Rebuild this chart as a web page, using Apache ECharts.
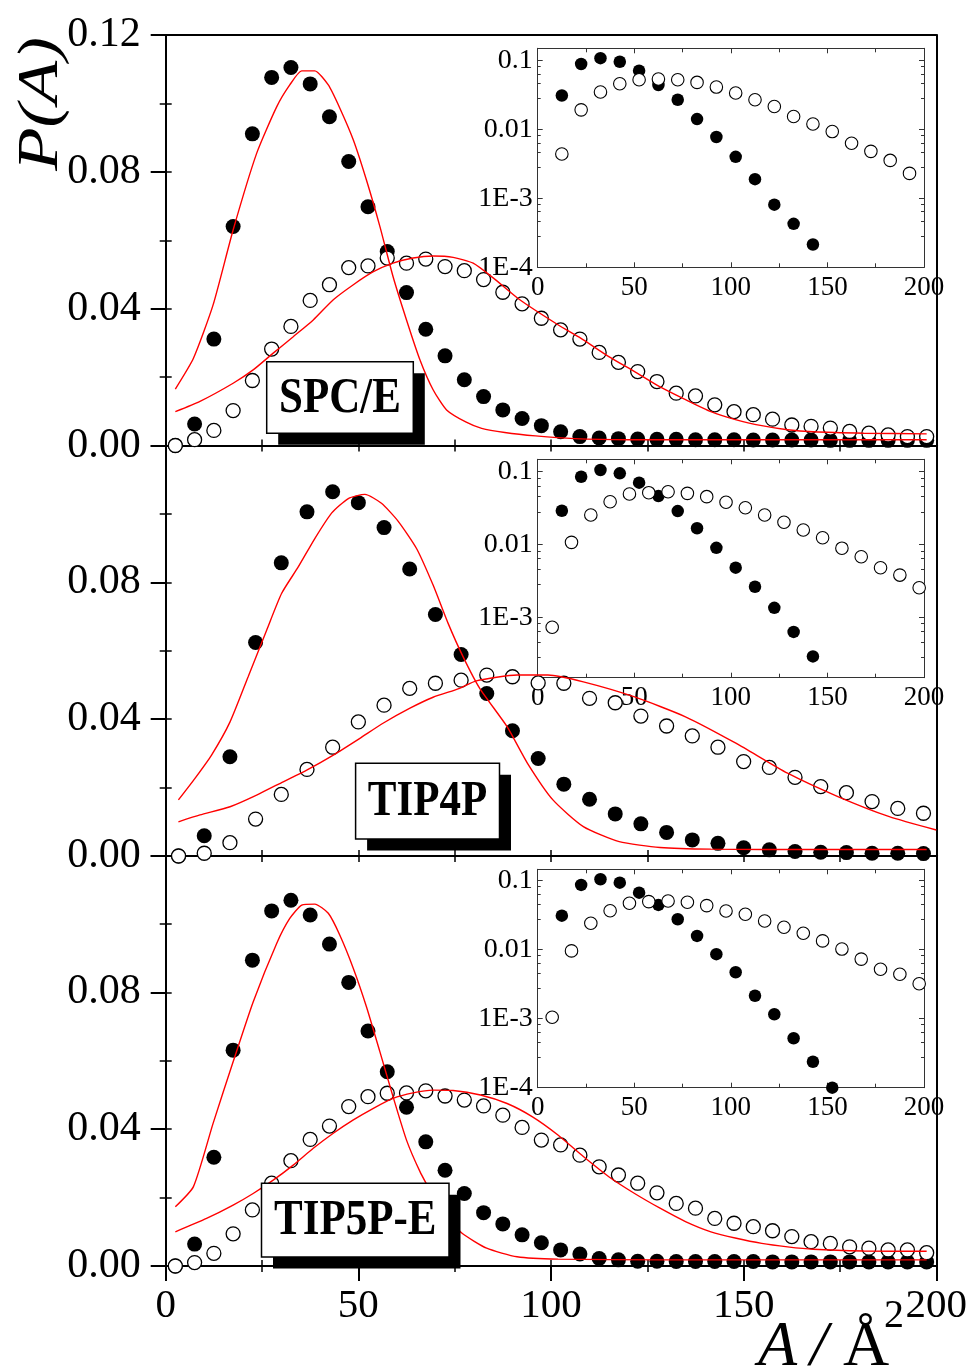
<!DOCTYPE html>
<html>
<head>
<meta charset="utf-8">
<script src="https://cdn.jsdelivr.net/npm/echarts@6/dist/echarts.min.js"></script>
<style>
html, body { margin: 0; padding: 0; background: #fff; }
#echart { width: 971px; height: 1372px; }
</style>
</head>
<body>
<div id="echart"></div>
<script>
// bin centres (A / Å^2)
const binsA = [2.5, 7.5, 12.5, 17.5, 22.5, 27.5, 32.5, 37.5, 42.5, 47.5, 52.5, 57.5, 62.5, 67.5, 72.5, 77.5,
    82.5, 87.5, 92.5, 97.5, 102.5, 107.5, 112.5, 117.5, 122.5, 127.5, 132.5, 137.5, 142.5, 147.5, 152.5,
    157.5, 162.5, 167.5, 172.5, 177.5, 182.5, 187.5, 192.5, 197.5];
const binsTip4p = [3.33, 10, 16.67, 23.33, 30, 36.67, 43.33, 50, 56.67, 63.33, 70, 76.67, 83.33, 90, 96.67,
    103.33, 110, 116.67, 123.33, 130, 136.67, 143.33, 150, 156.67, 163.33, 170, 176.67, 183.33, 190, 196.67];

// SPC/E
const spceFilled = [0, 0.0063, 0.0311, 0.064, 0.0911, 0.1076, 0.1105, 0.1057, 0.0961, 0.083, 0.0698, 0.0567,
    0.0447, 0.034, 0.0262, 0.0192, 0.0143, 0.0104, 0.0079, 0.0058, 0.004, 0.0026, 0.0022, 0.002, 0.0019,
    0.0018, 0.0018, 0.0017, 0.0017, 0.0017, 0.0016, 0.0016, 0.0016, 0.0016, 0.0015, 0.0015, 0.0015, 0.0015,
    0.0015, 0.0015];
const spceOpen = [0, 0.0017, 0.0044, 0.0102, 0.019, 0.0282, 0.0348, 0.0424, 0.047, 0.052, 0.0525, 0.0548,
    0.0533, 0.0545, 0.0523, 0.0511, 0.0485, 0.0448, 0.0414, 0.0372, 0.0338, 0.0311, 0.0272, 0.0243, 0.0216,
    0.0187, 0.0153, 0.0145, 0.0119, 0.0099, 0.009, 0.0077, 0.006, 0.0056, 0.0051, 0.0041, 0.0036, 0.0031,
    0.0026, 0.0026];
const spceFitNarrowX = [2.5, 7.2, 12.3, 17.5, 23.6, 28.8, 32.2, 35.3, 38.7, 42.2, 45.2, 48.7, 52.1, 55.6, 59,
    62.5, 66, 69.4, 72.9, 78, 82, 88, 96, 106, 120, 140, 160, 180, 197.5];
const spceFitNarrowY = [0.0165, 0.0255, 0.0411, 0.063, 0.0854, 0.099, 0.1054, 0.1095, 0.1095, 0.1054, 0.0986,
    0.0893, 0.0776, 0.064, 0.0494, 0.0367, 0.025, 0.0163, 0.0104, 0.0068, 0.005, 0.0038, 0.0028, 0.002,
    0.0017, 0.0017, 0.0017, 0.0017, 0.0017];
const spceFitBroadX = [2.5, 8.9, 17.5, 22.7, 27.9, 33.1, 38.3, 43.5, 48.7, 53.9, 59, 64.2, 69.4, 74.6, 79.8, 85,
    91.9, 101.8, 107.7, 115, 121.7, 128.2, 134.9, 141.5, 148.1, 154.7, 161.4, 168, 181.2, 197.5];
const spceFitBroadY = [0.0099, 0.0129, 0.0182, 0.0221, 0.027, 0.0318, 0.0367, 0.0426, 0.047, 0.0508, 0.0533,
    0.0548, 0.0554, 0.055, 0.0533, 0.049, 0.0426, 0.0353, 0.0314, 0.026, 0.0216, 0.0172, 0.0134, 0.0099,
    0.0075, 0.0058, 0.0046, 0.004, 0.0036, 0.0034];

// TIP4P
const tip4pFilled = [0, 0.0059, 0.029, 0.0624, 0.0857, 0.1006, 0.1065, 0.1033, 0.096, 0.0839, 0.0706, 0.0589,
    0.0475, 0.0366, 0.0285, 0.021, 0.0166, 0.0123, 0.0094, 0.0069, 0.0047, 0.0037, 0.0024, 0.0018, 0.0013,
    0.0011, 0.001, 0.0008, 0.0008, 0.0007];
const tip4pOpen = [0, 0.0008, 0.0039, 0.0108, 0.018, 0.0253, 0.0318, 0.0392, 0.0441, 0.049, 0.0505, 0.0514,
    0.0529, 0.0524, 0.0506, 0.0505, 0.0461, 0.0448, 0.0409, 0.038, 0.0351, 0.0318, 0.0276, 0.0259, 0.023,
    0.0203, 0.0185, 0.0159, 0.0139, 0.0125];
const tip4pFitNarrowX = [3.3, 7.6, 11.9, 16.7, 21.4, 26.2, 30.1, 34.4, 38.7, 43.1, 47.4, 51.7, 56, 60.3, 65.1,
    69.4, 73.3, 77.2, 81.5, 88.6, 93.9, 100.5, 108.4, 117.7, 128.3, 141.5, 168, 197.5];
const tip4pFitNarrowY = [0.0164, 0.0227, 0.0295, 0.0392, 0.0524, 0.066, 0.0768, 0.0845, 0.0928, 0.1003, 0.1045,
    0.1057, 0.1031, 0.0979, 0.0899, 0.0792, 0.068, 0.0582, 0.049, 0.0378, 0.0271, 0.0164, 0.0086, 0.0042,
    0.0025, 0.002, 0.0019, 0.0019];
const tip4pFitBroadX = [3.3, 8.9, 16.7, 23.6, 30.5, 36.6, 43.5, 50.4, 56.4, 63.4, 69.4, 76.3, 80.6, 91.2, 99.2,
    108.4, 121.7, 134.9, 148.1, 161.4, 174.6, 187.8, 200];
const tip4pFitBroadY = [0.01, 0.012, 0.0144, 0.0178, 0.0217, 0.0251, 0.0295, 0.0344, 0.0388, 0.0432, 0.0464,
    0.049, 0.0512, 0.0529, 0.0529, 0.0509, 0.0465, 0.0407, 0.0329, 0.0242, 0.0173, 0.0115, 0.0076];

// TIP5P-E
const tip5pFilled = [0, 0.0064, 0.0318, 0.0631, 0.0894, 0.1038, 0.1069, 0.1026, 0.0941, 0.0829, 0.0687, 0.0568,
    0.0464, 0.0363, 0.028, 0.0212, 0.0156, 0.0123, 0.0091, 0.0068, 0.0047, 0.0035, 0.0022, 0.0018, 0.0014,
    0.0014, 0.0013, 0.0013, 0.0013, 0.0013, 0.0013, 0.0012, 0.0012, 0.0012, 0.0012, 0.0012, 0.0012, 0.0012,
    0.0012, 0.0012];
const tip5pOpen = [0, 0.001, 0.0037, 0.0094, 0.0164, 0.0242, 0.0308, 0.037, 0.0409, 0.0466, 0.0495, 0.0505,
    0.0506, 0.0512, 0.0497, 0.0485, 0.0468, 0.0441, 0.0405, 0.0368, 0.0354, 0.0324, 0.029, 0.0266, 0.0242,
    0.0214, 0.0183, 0.0169, 0.0139, 0.0125, 0.0115, 0.0103, 0.0086, 0.0071, 0.0066, 0.0056, 0.0052, 0.0047,
    0.0047, 0.0039];
const tip5pFitNarrowX = [2.5, 7.2, 12.3, 17.5, 22.7, 28.8, 32.2, 35.3, 38.7, 42.2, 45.2, 48.7, 52.1, 55.6, 59,
    62.5, 66, 69.4, 72.5, 77, 83.3, 91.2, 101.8, 128.3, 197.5];
const tip5pFitNarrowY = [0.0173, 0.0232, 0.0417, 0.0597, 0.0772, 0.0943, 0.1016, 0.1055, 0.1058, 0.1031, 0.0967,
    0.087, 0.0758, 0.0626, 0.0495, 0.0368, 0.0276, 0.0205, 0.0145, 0.0095, 0.0052, 0.0027, 0.002, 0.0018,
    0.0018];
const tip5pFitBroadX = [2.5, 10.6, 17.5, 22.7, 27.9, 33.1, 38.3, 43.5, 48.7, 53.9, 59, 64.2, 69.4, 74.6, 81.7,
    88.6, 95.2, 101.8, 108.4, 115, 121.7, 128.3, 134.9, 141.5, 148.1, 154.7, 161.4, 168, 181.2, 197.5];
const tip5pFitBroadY = [0.01, 0.0139, 0.0178, 0.0212, 0.0251, 0.0295, 0.0344, 0.0388, 0.0427, 0.0461, 0.049,
    0.0506, 0.0514, 0.0513, 0.05, 0.0475, 0.0436, 0.0383, 0.032, 0.0261, 0.0212, 0.0169, 0.013, 0.01, 0.0081,
    0.0066, 0.0056, 0.0049, 0.0044, 0.0043];

// insets (log scale)
const insetFilledA = [12.5, 22.5, 32.5, 42.5, 52.5, 62.5, 72.5, 82.5, 92.5, 102.5, 112.5, 122.5, 132.5, 142.5, 152.5];
const spceInsetFilled = [0.031, 0.0887, 0.108, 0.0957, 0.071, 0.044, 0.0269, 0.0141, 0.00776, 0.004, 0.0019,
    0.00081, 0.000427, 0.000214];
const spceInsetOpenA = [12.5, 22.5, 32.5, 42.5, 52.5, 62.5, 72.5, 82.5, 92.5, 102.5, 112.5, 122.5, 132.5, 142.5,
    152.5, 162.5, 172.5, 182.5, 192.5];
const spceInsetOpen = [0.0044, 0.0192, 0.0348, 0.0459, 0.0525, 0.0537, 0.0525, 0.048, 0.0411, 0.0337, 0.0269,
    0.0215, 0.0154, 0.012, 0.0093, 0.0063, 0.0048, 0.00355, 0.0023];
const tip4pInsetFilled = [0.0291, 0.0853, 0.1054, 0.095, 0.0706, 0.0464, 0.0288, 0.0167, 0.009, 0.0048, 0.00263,
    0.00135, 0.00063, 0.00029];
const tip4pInsetOpenA = [7.5, 17.5, 27.5, 37.5, 47.5, 57.5, 67.5, 77.5, 87.5, 97.5, 107.5, 117.5, 127.5, 137.5,
    147.5, 157.5, 167.5, 177.5, 187.5, 197.5];
const tip4pInsetOpen = [0.00073, 0.0107, 0.0254, 0.0387, 0.0494, 0.0515, 0.0531, 0.0504, 0.0454, 0.038, 0.032,
    0.0254, 0.0202, 0.0158, 0.0124, 0.0089, 0.0068, 0.0048, 0.0038, 0.00255];
const tip5pInsetFilled = [0.0311, 0.0867, 0.1047, 0.0935, 0.067, 0.0445, 0.0276, 0.0158, 0.0086, 0.0047, 0.00215,
    0.00116, 0.00052, 0.000238, 0.0001];
const tip5pInsetOpen = [0.00105, 0.0096, 0.0241, 0.0367, 0.047, 0.0497, 0.0508, 0.0487, 0.0435, 0.0363, 0.0326,
    0.026, 0.0211, 0.0173, 0.0134, 0.0102, 0.0073, 0.0052, 0.0044, 0.0032];

const logLabels = { '-1': '0.1', '-2': '0.01', '-3': '1E-3', '-4': '1E-4' };

const panels = [
    { name: 'SPC/E', x: binsA, filled: spceFilled, open: spceOpen,
      fits: [[spceFitNarrowX, spceFitNarrowY], [spceFitBroadX, spceFitBroadY]],
      insetF: [insetFilledA, spceInsetFilled], insetO: [spceInsetOpenA, spceInsetOpen],
      top: 35, insetTop: 48.3, insetH: 219, logMin: 1e-4, logMax: 0.15,
      box: [266.7, 361.7, 146.6, 71.6] },
    { name: 'TIP4P', x: binsTip4p, filled: tip4pFilled, open: tip4pOpen,
      fits: [[tip4pFitNarrowX, tip4pFitNarrowY], [tip4pFitBroadX, tip4pFitBroadY]],
      insetF: [insetFilledA, tip4pInsetFilled], insetO: [tip4pInsetOpenA, tip4pInsetOpen],
      top: 445.5, insetTop: 459.3, insetH: 218.4, logMin: 1.48e-4, logMax: 0.148,
      box: [355.6, 763.3, 143.9, 75.7] },
    { name: 'TIP5P-E', x: binsA, filled: tip5pFilled, open: tip5pOpen,
      fits: [[tip5pFitNarrowX, tip5pFitNarrowY], [tip5pFitBroadX, tip5pFitBroadY]],
      insetF: [insetFilledA, tip5pInsetFilled], insetO: [tip4pInsetOpenA, tip5pInsetOpen],
      top: 855.5, insetTop: 869.3, insetH: 218.4, logMin: 1e-4, logMax: 0.146,
      box: [261.5, 1183.3, 187.5, 73.7] }
];

function zip(xs, ys) {
    return ys.map((y, i) => [xs[i], y]);
}

const serif = '"Liberation Serif", "Times New Roman", serif';
const grid = [], xAxis = [], yAxis = [], series = [], graphic = [];
const noLine = { show: false }, noLabel = { show: false }, noSplit = { show: false };

panels.forEach((p, i) => {
    const last = i === panels.length - 1;
    // main grid
    const g = grid.length;
    grid.push({ left: 165.7, top: p.top, width: 770.6, height: 410.5, outerBoundsMode: 'none' });
    const xb = xAxis.length;
    xAxis.push({
        gridIndex: g, type: 'value', min: 0, max: 200, interval: 50, position: 'bottom',
        axisLine: { show: true, onZero: false, lineStyle: { color: '#000', width: 2 } },
        axisTick: { show: last, inside: false, length: 15, lineStyle: { color: '#000', width: 2 } },
        axisLabel: { show: last, fontFamily: serif, fontSize: 41, color: '#000', margin: 20 },
        splitLine: noSplit
    });
    xAxis.push({
        gridIndex: g, type: 'value', min: 0, max: 200, interval: 50, position: 'top',
        axisLine: { show: true, onZero: false, lineStyle: { color: '#000', width: 2 } },
        axisTick: { show: false }, axisLabel: noLabel, splitLine: noSplit
    });
    const yl = yAxis.length;
    yAxis.push({
        gridIndex: g, type: 'value', min: 0, max: 0.12, interval: 0.04, position: 'left',
        axisLine: { show: true, onZero: false, lineStyle: { color: '#000', width: 2 } },
        axisTick: { show: true, inside: false, length: 15, lineStyle: { color: '#000', width: 2 } },
        axisLabel: {
            fontFamily: serif, fontSize: 42, color: '#000', margin: 25,
            formatter: v => (i > 0 && Math.abs(v - 0.12) < 1e-9) ? '' : v.toFixed(2)
        },
        splitLine: noSplit
    });
    yAxis.push({
        gridIndex: g, type: 'value', min: 0, max: 0.12, interval: 0.04, position: 'right',
        axisLine: { show: true, onZero: false, lineStyle: { color: '#000', width: 2 } },
        axisTick: { show: false }, axisLabel: noLabel, splitLine: noSplit
    });

    // overlay grid: small inward ticks
    const og = grid.length;
    grid.push({ left: 165.7, top: p.top, width: 770.6, height: 410.5, outerBoundsMode: 'none' });
    ['bottom', 'top'].forEach(pos => xAxis.push({
        gridIndex: og, type: 'value', min: 0, max: 200, interval: 25, position: pos,
        axisLine: noLine, axisLabel: noLabel, splitLine: noSplit,
        axisTick: { show: true, inside: true, length: 6, lineStyle: { color: '#000', width: 1.5 } }
    }));
    ['left', 'right'].forEach(pos => yAxis.push({
        gridIndex: og, type: 'value', min: 0, max: 0.12, interval: 0.02, position: pos,
        axisLine: noLine, axisLabel: noLabel, splitLine: noSplit,
        axisTick: { show: true, inside: true, length: 6, lineStyle: { color: '#000', width: 1.5 } }
    }));

    // inset grid
    const ig = grid.length;
    grid.push({ left: 537.7, top: p.insetTop, width: 386.3, height: p.insetH, outerBoundsMode: 'none' });
    const ixb = xAxis.length;
    xAxis.push({
        gridIndex: ig, type: 'value', min: 0, max: 200, interval: 50, position: 'bottom',
        axisLine: { show: true, onZero: false, lineStyle: { color: '#333', width: 1 } },
        axisTick: { show: true, inside: true, length: 5, lineStyle: { color: '#333' } },
        minorTick: { show: true, splitNumber: 2, length: 4, lineStyle: { color: '#333' } },
        axisLabel: { fontFamily: serif, fontSize: 27, color: '#000', margin: 7 },
        splitLine: noSplit, minorSplitLine: noSplit
    });
    xAxis.push({
        gridIndex: ig, type: 'value', min: 0, max: 200, interval: 50, position: 'top',
        axisLine: { show: true, onZero: false, lineStyle: { color: '#333', width: 1 } },
        axisTick: { show: true, inside: true, length: 5, lineStyle: { color: '#333' } },
        minorTick: { show: true, splitNumber: 2, length: 4, lineStyle: { color: '#333' } },
        axisLabel: noLabel, splitLine: noSplit, minorSplitLine: noSplit
    });
    const iyl = yAxis.length;
    ['left', 'right'].forEach(pos => yAxis.push({
        gridIndex: ig, type: 'log', logBase: 10, min: p.logMin, max: p.logMax, position: pos,
        axisLine: { show: true, onZero: false, lineStyle: { color: '#333', width: 1 } },
        axisTick: { show: true, inside: true, length: 5, lineStyle: { color: '#333' } },
        minorTick: { show: true, splitNumber: 5, length: 3, lineStyle: { color: '#333' } },
        axisLabel: pos === 'left' ? {
            fontFamily: serif, fontSize: 28, color: '#000', margin: 5,
            formatter: v => {
                const e = Math.log10(v), r = Math.round(e);
                return Math.abs(e - r) < 1e-6 ? (logLabels[r] || '') : '';
            }
        } : noLabel,
        splitLine: noSplit, minorSplitLine: noSplit
    }));

    // main series
    series.push({
        type: 'scatter', xAxisIndex: xb, yAxisIndex: yl, data: zip(p.x, p.filled),
        symbol: 'circle', symbolSize: 15, itemStyle: { color: '#000', opacity: 1 }, z: 2
    });
    series.push({
        type: 'scatter', xAxisIndex: xb, yAxisIndex: yl, data: zip(p.x, p.open),
        symbol: 'circle', symbolSize: 14,
        itemStyle: { color: '#fff', borderColor: '#000', borderWidth: 1.3, opacity: 1 }, z: 3
    });
    p.fits.forEach(f => series.push({
        type: 'line', xAxisIndex: xb, yAxisIndex: yl, data: zip(f[0], f[1]),
        showSymbol: false, symbol: 'none', smooth: 0.2,
        lineStyle: { color: '#ff0000', width: 1.4, opacity: 1 }, z: 4
    }));
    // inset series
    series.push({
        type: 'scatter', xAxisIndex: ixb, yAxisIndex: iyl, data: zip(p.insetF[0], p.insetF[1]),
        symbol: 'circle', symbolSize: 12.5, itemStyle: { color: '#000', opacity: 1 }, z: 5
    });
    series.push({
        type: 'scatter', xAxisIndex: ixb, yAxisIndex: iyl, data: zip(p.insetO[0], p.insetO[1]),
        symbol: 'circle', symbolSize: 12.5,
        itemStyle: { color: '#fff', borderColor: '#000', borderWidth: 1.1, opacity: 1 }, z: 6
    });

    // label box with drop shadow
    const [bx, by, bw, bh] = p.box;
    graphic.push({ type: 'rect', z: 100, shape: { x: bx + 11.5, y: by + 11.5, width: bw, height: bh }, style: { fill: '#000' } });
    graphic.push({ type: 'rect', z: 101, shape: { x: bx, y: by, width: bw, height: bh }, style: { fill: '#fff', stroke: '#000', lineWidth: 1.5 } });
    graphic.push({
        type: 'text', z: 102, x: bx + bw / 2, y: by + bh / 2 + 1, scaleY: 1.2,
        style: { text: p.name, font: 'bold 43px ' + serif, fill: '#000', align: 'center', verticalAlign: 'middle',
                 textAlign: 'center', textVerticalAlign: 'middle' }
    });
});

// axis titles
graphic.push({
    type: 'text', z: 110, x: 42, y: 104, rotation: Math.PI / 2, scaleX: 1.22,
    style: { text: 'P(A)', font: 'italic 58px ' + serif, fill: '#000', align: 'center', verticalAlign: 'middle',
             textAlign: 'center', textVerticalAlign: 'middle' }
});
graphic.push({ type: 'text', z: 110, x: 758, y: 1348,
    style: { text: 'A', font: 'italic 64px ' + serif, fill: '#000', align: 'left', verticalAlign: 'middle', textAlign: 'left', textVerticalAlign: 'middle' } });
graphic.push({ type: 'text', z: 110, x: 810, y: 1348,
    style: { text: '/', font: 'italic 64px ' + serif, fill: '#000', align: 'left', verticalAlign: 'middle', textAlign: 'left', textVerticalAlign: 'middle' } });
graphic.push({ type: 'text', z: 110, x: 843, y: 1348,
    style: { text: 'Å', font: '64px ' + serif, fill: '#000', align: 'left', verticalAlign: 'middle', textAlign: 'left', textVerticalAlign: 'middle' } });
graphic.push({ type: 'text', z: 110, x: 884, y: 1316,
    style: { text: '2', font: '40px ' + serif, fill: '#000', align: 'left', verticalAlign: 'middle', textAlign: 'left', textVerticalAlign: 'middle' } });

const chart = echarts.init(document.getElementById('echart'));
chart.setOption({
    animation: false,
    backgroundColor: '#fff',
    grid: grid,
    xAxis: xAxis,
    yAxis: yAxis,
    series: series,
    graphic: { elements: graphic }
});
</script>
</body>
</html>
